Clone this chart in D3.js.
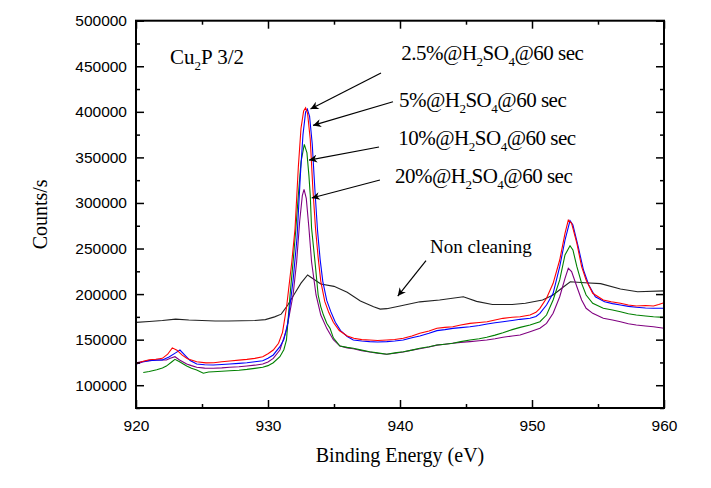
<!DOCTYPE html>
<html><head><meta charset="utf-8">
<script src="https://cdn.jsdelivr.net/npm/d3@7"></script>
<style>html,body{margin:0;padding:0;background:#fff;}</style>
</head><body>
<svg id="chart" width="711" height="488"></svg>
<script>
// ---------- data ----------
const xDomain = [920, 960];
const yDomain = [75000, 500000];
const xTicksMajor = [920, 930, 940, 950, 960];
const yTicksMajor = [100000, 150000, 200000, 250000, 300000, 350000, 400000, 450000, 500000];

const red = [[920,123500],[920.5,126000],[921,128000],[921.5,128500],[922,129500],[922.4,134000],[922.75,141000],[923.1,138500],[923.5,133000],[923.9,129000],[924.6,125800],[925.3,124500],[925.9,124700],[926.5,125800],[927.1,126600],[927.8,127500],[928.4,128400],[929,129500],[929.6,131300],[930,134500],[930.4,138600],[930.8,146000],[931.1,158000],[931.4,185000],[931.8,235000],[932.05,272000],[932.3,340000],[932.5,382000],[932.7,401000],[932.85,404500],[933,398000],[933.2,370000],[933.4,315000],[933.6,272000],[933.8,240000],[934,214000],[934.3,192000],[934.6,180000],[934.95,169000],[935.4,160000],[936,154000],[936.5,151500],[937.1,150000],[937.7,149600],[938.3,149000],[939,149600],[939.6,150200],[940.25,151500],[940.9,154000],[941.5,157000],[942.2,159500],[942.8,162500],[943.4,163500],[944,164200],[944.6,166000],[945.3,167900],[946,168800],[946.6,169700],[947.2,171500],[947.8,173400],[948.5,174500],[949.1,175200],[949.85,177000],[950.3,180000],[950.6,184400],[951.1,195400],[951.6,211800],[952.1,237400],[952.5,266700],[952.75,281300],[953,277700],[953.4,255700],[953.76,230100],[954.1,215500],[954.6,200900],[955.4,193500],[956,191500],[956.7,189900],[957.3,188000],[957.9,186900],[958.6,187500],[959.2,186900],[959.6,188500],[960,190600]];

const blue = [[920,123000],[920.5,125500],[921,127000],[921.5,127500],[922,127700],[922.5,131000],[923,135500],[923.33,138600],[923.7,133000],[924.1,127000],[924.6,123300],[925.2,122500],[925.86,122200],[926.5,122800],[927.1,123300],[927.8,124000],[928.4,124700],[929,125800],[929.6,126900],[930,129500],[930.4,133200],[930.9,142300],[931.2,150000],[931.5,168000],[931.9,215000],[932.2,262000],[932.45,330000],[932.65,375000],[932.85,400000],[932.98,403000],[933.15,395000],[933.35,365000],[933.55,315000],[933.75,270000],[933.95,238000],[934.15,214000],[934.45,193000],[934.75,181000],[935.1,169000],[935.5,160000],[936,153500],[936.46,149600],[937.1,148500],[937.7,147800],[938.3,147500],[939,147800],[939.6,148500],[940.25,149600],[940.9,152000],[941.5,154000],[942.2,157000],[942.8,159900],[943.4,161000],[944,162400],[944.6,163200],[945.3,164200],[946,165500],[946.6,167200],[947.2,168500],[947.8,169700],[948.5,171000],[949.1,172300],[949.85,173400],[950.3,175500],[950.6,178900],[951.1,188000],[951.6,200900],[952.1,230100],[952.5,259300],[952.88,280600],[953.1,275800],[953.5,252000],[953.9,226400],[954.3,210000],[954.8,197100],[955.5,191600],[956.1,189500],[956.7,188000],[957.3,186500],[957.9,185500],[958.6,184800],[959.2,184400],[960,184400]];

const green = [[920.55,114000],[921,115000],[921.57,116900],[922,119000],[922.3,121000],[922.7,125500],[922.95,128400],[923.3,125800],[923.84,121100],[924.2,118500],[924.6,116700],[925.1,113100],[925.5,114500],[925.86,114800],[926.5,115300],[927.1,115900],[927.8,116500],[928.4,117400],[929,118500],[929.6,119700],[930,121500],[930.4,124700],[930.9,131300],[931.2,139000],[931.4,149600],[931.67,199000],[931.9,235500],[932.1,270000],[932.3,308700],[932.5,345000],[932.75,364300],[932.95,355000],[933.1,330000],[933.2,308700],[933.3,272500],[933.56,235500],[933.8,199000],[934.0,186000],[934.2,177000],[934.45,168000],[934.7,162400],[934.95,152000],[935.45,143000],[936,141500],[936.46,140500],[937.1,138500],[937.7,136800],[938.3,135500],[939,134000],[939.6,135500],[940.25,136800],[940.9,138500],[941.5,140500],[942.2,142300],[942.8,144100],[943.4,145000],[944,146000],[944.6,147800],[945.3,149600],[946,151000],[946.57,152600],[947.2,155000],[947.8,157600],[948.5,161000],[949.1,163500],[949.85,166100],[950.6,169700],[951.1,177000],[951.6,193500],[952.1,215500],[952.5,242900],[952.88,253100],[953.1,248400],[953.4,230100],[953.76,211800],[954.1,199000],[954.6,189900],[955.4,184400],[956.1,182500],[956.7,180700],[957.3,178500],[957.9,177000],[958.6,176000],[959.2,175200],[960,174500]];

const purple = [[920,124700],[920.5,126000],[921,127000],[921.57,127700],[922.3,127700],[922.6,129500],[922.95,131300],[923.3,127700],[923.84,123300],[924.2,121500],[924.6,119700],[925.2,118800],[925.86,118600],[926.5,119000],[927.1,119700],[927.8,120300],[928.4,121100],[929,122000],[929.6,123300],[930,125500],[930.4,129500],[930.9,138600],[931.4,160600],[931.9,199000],[932.17,235500],[932.4,280000],[932.6,308000],[932.73,315000],[932.9,305000],[933.1,272500],[933.3,235500],[933.64,199000],[934.0,177000],[934.45,162400],[934.95,150000],[935.45,143000],[936,141000],[936.46,140000],[937.1,138000],[937.7,136500],[938.3,135000],[939,134000],[939.6,135000],[940.25,136500],[940.9,138500],[941.5,140000],[942.2,142000],[942.8,144000],[943.4,145000],[944,146000],[944.6,147000],[945.3,147800],[946,148800],[946.57,149600],[947.2,151000],[947.8,152600],[948.5,154000],[949.1,155100],[949.85,158700],[950.6,162500],[951.1,167900],[951.6,178900],[952.1,197100],[952.5,217300],[952.75,228300],[953.0,224600],[953.4,208100],[953.76,193500],[954.1,184400],[954.6,178900],[955.4,173400],[956.1,171500],[956.7,169700],[957.3,167500],[957.9,166100],[958.6,165000],[959.2,164200],[960,162500]];

const black = [[920,169000],[921,170000],[922,171000],[923,172500],[924,171500],[925,171000],[926,170500],[927,170500],[928,170800],[929,171000],[929.8,172000],[930.5,175000],[931,178000],[931.5,188000],[932,200000],[932.5,212000],[933,221000],[933.5,216000],[934,211000],[935,208500],[936,202000],[937,192500],[938,186000],[938.5,183500],[939,184000],[940,187000],[941.5,191500],[943,193500],[944.8,197000],[945.8,192000],[947,188500],[948.5,188500],[949.5,190000],[950.8,193500],[951.6,199000],[952.3,207000],[952.9,213500],[954,212500],[955.2,211500],[956.7,205500],[958,202500],[960,203500]];

const seriesNames = ["Non cleaning", "20%", "10%", "5%", "2.5%"];
const seriesData = [black, purple, green, blue, red];
const seriesColors = ["#222222", "#800080", "#008000", "#0000ff", "#ff0000"];

// annotation labels: [energy, counts] for text start (baseline)
const labelTexts = ["2.5%", "5%", "10%", "20%"];
const labelPos = [[940.1, 456900], [939.92, 405800], [939.87, 363600], [939.62, 321900]];
// arrows: [fromE, fromV, toE, toV]
const arrows = [[938.56, 442600, 933.22, 403100], [939.47, 411100, 933.41, 385100], [938.41, 361400, 933.11, 347100], [938.48, 325200, 933.31, 305400], [941.97, 236600, 939.83, 197900]];
const nonCleanPos = [942.27, 244800];
const titlePos = [922.58, 452500];

// ---------- drawing ----------
const svg = d3.select("#chart");
const L = 136, R = 664, T = 20.7, B = 408;
const x = d3.scaleLinear().domain(xDomain).range([L, R]);
const y = d3.scaleLinear().domain(yDomain).range([B, T]);

const defs = svg.append("defs");
defs.append("clipPath").attr("id", "clip").append("rect")
  .attr("x", L).attr("y", T).attr("width", R - L).attr("height", B - T);
defs.append("marker").attr("id", "ah").attr("viewBox", "0 0 10 10")
  .attr("refX", 10).attr("refY", 5).attr("markerWidth", 10).attr("markerHeight", 8)
  .attr("markerUnits", "userSpaceOnUse").attr("orient", "auto")
  .append("path").attr("d", "M0,0 L10,5 L0,10 L3,5 Z").attr("fill", "#000");

const line = d3.line().x(d => x(d[0])).y(d => y(d[1]));
const g = svg.append("g").attr("clip-path", "url(#clip)");
seriesData.forEach((s, i) => {
  g.append("path").datum(s).attr("d", line)
    .attr("fill", "none").attr("stroke", seriesColors[i]).attr("stroke-width", 1.1);
});

// axes (ticks inward on all 4 sides)
const tickFont = "'Liberation Sans', Arial, sans-serif";
const xMinor = d3.range(xDomain[0], xDomain[1] + 0.1, 5).filter(v => !xTicksMajor.includes(v));
const yMinor = d3.range(75000, 500001, 25000).filter(v => !yTicksMajor.includes(v));

function styleAxis(sel) {
  sel.select(".domain").remove();
  sel.selectAll("line").attr("stroke", "#000").attr("stroke-width", 1.5);
}
// bottom
svg.append("g").attr("transform", `translate(0,${B})`)
  .call(d3.axisBottom(x).tickValues(xTicksMajor).tickSize(-8).tickPadding(12).tickFormat(d3.format("d")))
  .call(styleAxis)
  .call(s => s.selectAll("text").attr("font-family", tickFont).attr("font-size", "15.5px").attr("fill", "#000"));
svg.append("g").attr("transform", `translate(0,${B})`)
  .call(d3.axisBottom(x).tickValues(xMinor).tickSize(-4).tickFormat("")).call(styleAxis);
// top
svg.append("g").attr("transform", `translate(0,${T})`)
  .call(d3.axisTop(x).tickValues(xTicksMajor).tickSize(-8).tickFormat("")).call(styleAxis);
svg.append("g").attr("transform", `translate(0,${T})`)
  .call(d3.axisTop(x).tickValues(xMinor).tickSize(-4).tickFormat("")).call(styleAxis);
// left
svg.append("g").attr("transform", `translate(${L},0)`)
  .call(d3.axisLeft(y).tickValues(yTicksMajor).tickSize(-8).tickPadding(9).tickFormat(d3.format("d")))
  .call(styleAxis)
  .call(s => s.selectAll("text").attr("font-family", tickFont).attr("font-size", "15.5px").attr("fill", "#000"));
svg.append("g").attr("transform", `translate(${L},0)`)
  .call(d3.axisLeft(y).tickValues(yMinor).tickSize(-4).tickFormat("")).call(styleAxis);
// right
svg.append("g").attr("transform", `translate(${R},0)`)
  .call(d3.axisRight(y).tickValues(yTicksMajor).tickSize(-8).tickFormat("")).call(styleAxis);
svg.append("g").attr("transform", `translate(${R},0)`)
  .call(d3.axisRight(y).tickValues(yMinor).tickSize(-4).tickFormat("")).call(styleAxis);

// frame
svg.append("rect").attr("x", L).attr("y", T).attr("width", R - L).attr("height", B - T)
  .attr("fill", "none").attr("stroke", "#000").attr("stroke-width", 2);

// axis titles
const serif = "'Liberation Serif', 'Times New Roman', serif";
svg.append("text").attr("x", (L + R) / 2).attr("y", 462).attr("text-anchor", "middle")
  .attr("font-family", serif).attr("font-size", "20px").text("Binding Energy (eV)");
svg.append("text").attr("transform", `translate(47,${(T + B) / 2}) rotate(-90)`).attr("text-anchor", "middle")
  .attr("font-family", serif).attr("font-size", "20px").text("Counts/s");

// title "Cu2P 3/2"
const tt = svg.append("text").attr("x", x(titlePos[0])).attr("y", y(titlePos[1]))
  .attr("font-family", serif).attr("font-size", "21px");
tt.append("tspan").text("Cu");
tt.append("tspan").attr("font-size", "13px").attr("dy", 6).text("2");
tt.append("tspan").attr("dy", -6).text("P 3/2");

// labels
labelTexts.forEach((t, i) => {
  const el = svg.append("text").attr("x", x(labelPos[i][0])).attr("y", y(labelPos[i][1]))
    .attr("font-family", serif).attr("font-size", "21px").attr("letter-spacing", "-0.5px");
  el.append("tspan").text(t + "@H");
  el.append("tspan").attr("font-size", "13px").attr("dy", 6).text("2");
  el.append("tspan").attr("dy", -6).text("SO");
  el.append("tspan").attr("font-size", "13px").attr("dy", 6).text("4");
  el.append("tspan").attr("dy", -6).text("@60 sec");
});
svg.append("text").attr("x", x(nonCleanPos[0])).attr("y", y(nonCleanPos[1]))
  .attr("font-family", serif).attr("font-size", "19px").text("Non cleaning");

// arrows
arrows.forEach(a => {
  svg.append("line").attr("x1", x(a[0])).attr("y1", y(a[1])).attr("x2", x(a[2])).attr("y2", y(a[3]))
    .attr("stroke", "#000").attr("stroke-width", 1.2).attr("marker-end", "url(#ah)");
});
</script>
</body></html>
